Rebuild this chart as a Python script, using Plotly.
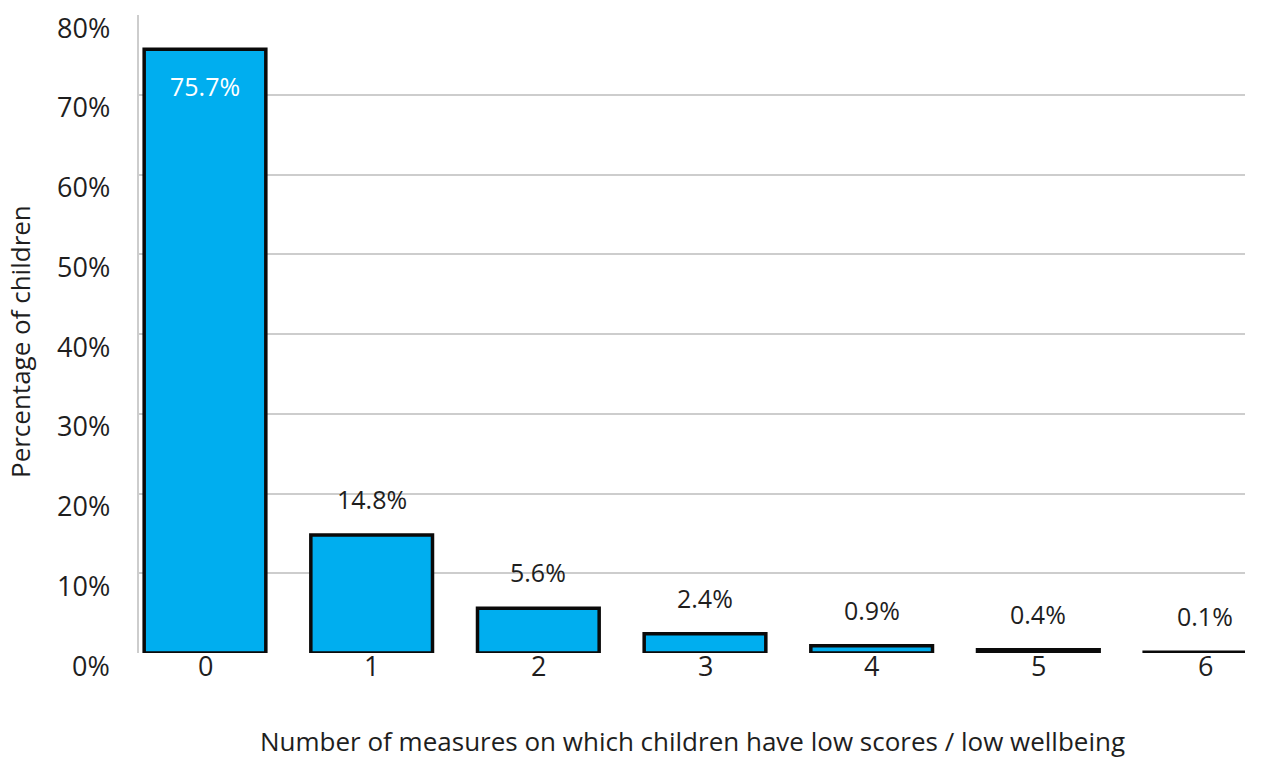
import plotly.graph_objects as go

categories = ["0", "1", "2", "3", "4", "5", "6"]
values = [75.7, 14.8, 5.6, 2.4, 0.9, 0.4, 0.1]
labels = ["75.7%", "14.8%", "5.6%", "2.4%", "0.9%", "0.4%", "0.1%"]
y_ticks = [0, 10, 20, 30, 40, 50, 60, 70, 80]
y_tick_labels = ["0%", "10%", "20%", "30%", "40%", "50%", "60%", "70%", "80%"]

FONT = "Open Sans"
TXT = "#1e1e1e"

fig = go.Figure()
fig.add_trace(go.Bar(
    x=list(range(len(categories))), y=values,
    width=0.73,
    marker=dict(color="#00aeef", line=dict(color="#0a0a0a", width=3.5)),
    hoverinfo="skip",
))

annotations = []
for i, (v, lab) in enumerate(zip(values, labels)):
    if i == 0:
        annotations.append(dict(x=i, y=v, xref="x", yref="y", text=lab, showarrow=False,
                                yanchor="middle", yshift=-37,
                                font=dict(family=FONT, size=25, color="white")))
    else:
        annotations.append(dict(x=i, y=v, xref="x", yref="y", text=lab, showarrow=False,
                                yanchor="middle", yshift=36,
                                font=dict(family=FONT, size=25, color=TXT)))
for t, tl in zip(y_ticks, y_tick_labels):
    annotations.append(dict(x=0, y=t, xref="paper", yref="y", text=tl, showarrow=False,
                            xanchor="right", yanchor="middle", xshift=-27, yshift=-12,
                            font=dict(family=FONT, size=27, color=TXT)))
for i, c in enumerate(categories):
    annotations.append(dict(x=i, y=0, xref="x", yref="paper", text=c, showarrow=False,
                            xanchor="center", yanchor="middle", yshift=-12,
                            font=dict(family=FONT, size=27, color=TXT)))
annotations.append(dict(x=0.5, y=0, xref="paper", yref="paper",
                        text="Number of measures on which children have low scores / low wellbeing",
                        showarrow=False, xanchor="center", yanchor="middle", yshift=-88,
                        font=dict(family=FONT, size=26, color=TXT)))
annotations.append(dict(x=0, y=0.5, xref="paper", yref="paper",
                        text="Percentage of children", textangle=-90,
                        showarrow=False, xanchor="center", yanchor="middle",
                        xshift=-119, yshift=-8,
                        font=dict(family=FONT, size=26, color=TXT)))

fig.update_layout(
    width=1269, height=760,
    margin=dict(l=139, r=24, t=15, b=107),
    paper_bgcolor="white", plot_bgcolor="white",
    showlegend=False,
    annotations=annotations,
    xaxis=dict(
        range=[-0.396, 6.24], automargin=False,
        tickvals=list(range(len(categories))), showticklabels=False,
        showgrid=False, zeroline=False, showline=False, ticks="",
    ),
    yaxis=dict(
        range=[0, 80], automargin=False,
        tickvals=y_ticks, showticklabels=False,
        showgrid=True, gridcolor="#cdcdcd", gridwidth=1.5,
        zeroline=False, showline=True, linecolor="#cdcdcd", linewidth=1.5,
        ticks="",
    ),
)

fig.write_html("out.html")
